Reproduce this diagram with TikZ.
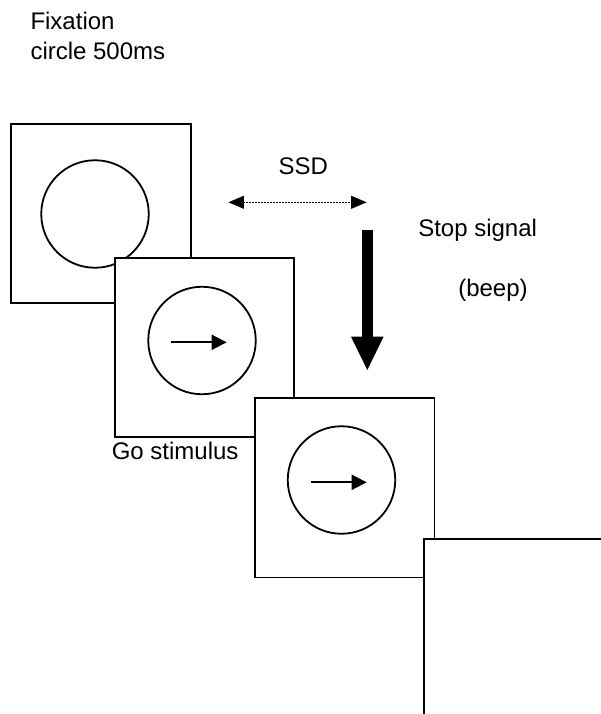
\documentclass[tikz,border=0pt]{standalone}
\usepackage{fontspec}
\setmainfont{Liberation Sans}
\usetikzlibrary{arrows.meta}
\begin{document}
\begin{tikzpicture}[x=1pt,y=-1pt,
  frame/.style={draw=black,fill=white,line width=1.8pt,inner sep=0pt,outer sep=0pt,rectangle},
  ring/.style={draw=black,line width=1.8pt,circle,inner sep=0pt,outer sep=0pt,minimum size=107.5pt},
  lbl/.style={font=\fontsize{24}{24}\selectfont,inner sep=0pt,outer sep=0pt},
  goarrow/.style={line width=1.8pt,-{Triangle[width=15pt,length=15pt]}},
  ssdarrow/.style={line width=1.6pt,dash pattern=on 1.5pt off 1.5pt,
     {Triangle[width=12.7pt,length=15.5pt]}-{Triangle[width=12.7pt,length=15.5pt]}},
]
\useasboundingbox (0,0) rectangle (601,714);
\clip (0,0) rectangle (601,714);
\fill[white] (0,0) rectangle (601,714);

% labels
\node[lbl,anchor=base west] (fix1) at (30.5,29.3) {Fixation};
\node[lbl,anchor=base west] (fix2) at (30.5,60) {circle 500ms};
\node[lbl,anchor=base] (ssd) at (303.3,175) {SSD};
\node[lbl,anchor=base west] (stop) at (418.3,236) {Stop signal};
\node[lbl,anchor=base west] (beep) at (458.3,296) {(beep)};
\node[lbl,anchor=base east] (go) at (238.5,459) {Go stimulus};

% screen 1
\node[frame,minimum width=180pt,minimum height=179pt] (b1) at (101,213.5) {};
\node[ring] (c1) at (95,214) {};
% screen 2
\node[frame,minimum width=179pt,minimum height=179pt] (b2) at (204.5,347.5) {};
\node[ring] (c2) at (202,340.5) {};
\coordinate (a2s) at (171,342.3);
\coordinate (a2e) at (226.7,342.3);
\draw[goarrow] (a2s) -- (a2e);
% screen 3
\node[frame,minimum width=179.5pt,minimum height=179.5pt] (b3) at (344.7,487.8) {};
\node[ring] (c3) at (341.5,480) {};
\coordinate (a3s) at (311,482.3);
\coordinate (a3e) at (366.7,482.3);
\draw[goarrow] (a3s) -- (a3e);
% screen 4 (partly outside)
\node[frame,minimum width=220pt,minimum height=220pt] (b4) at (534,649) {};

% SSD interval
\coordinate (ssdL) at (228.3,202.3);
\coordinate (ssdR) at (366.7,202.3);
\draw[ssdarrow] (ssdL) -- (ssdR);

% stop-signal arrow
\coordinate (stTop) at (367.3,230);
\coordinate (stBase) at (367.3,337);
\coordinate (stTip) at (367.3,370);
\draw[line width=10.7pt] (stTop) -- ([yshift=-1pt]stBase);
\fill (351,336.7) -- (383.6,336.7) -- (stTip) -- cycle;
\end{tikzpicture}
\end{document}
